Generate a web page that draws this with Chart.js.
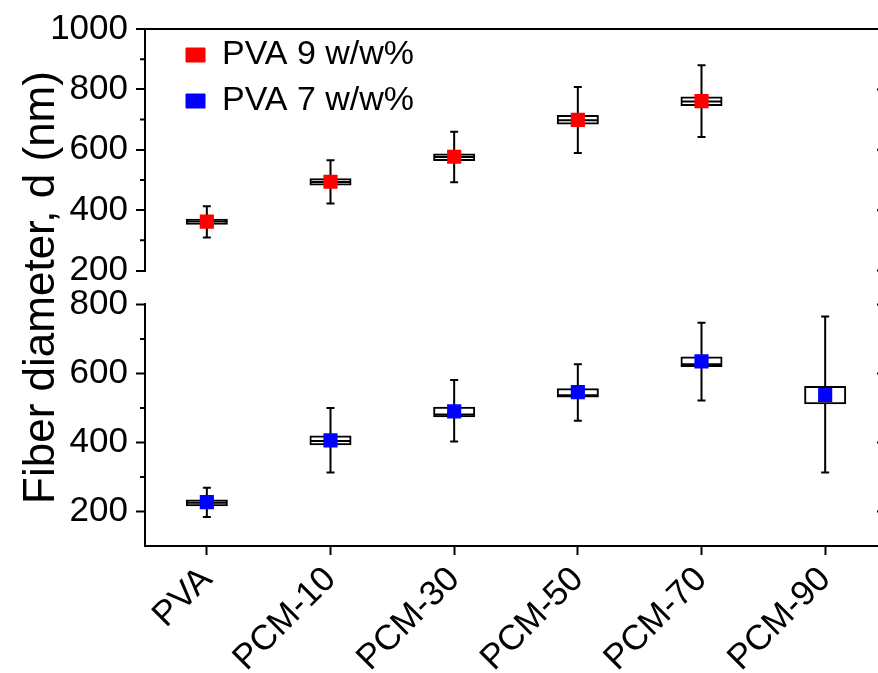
<!DOCTYPE html>
<html>
<head>
<meta charset="utf-8">
<script src="https://cdn.jsdelivr.net/npm/chart.js@4.4.1/dist/chart.umd.min.js"></script>
<style>
  html, body { margin: 0; padding: 0; overflow: hidden; background: #fff; }
</style>
</head>
<body>
<canvas id="grafico" width="900" height="673"></canvas>
<script>
// categorias del eje x
const categories = ['PVA', 'PCM-10', 'PCM-30', 'PCM-50', 'PCM-70', 'PCM-90'];

// PVA 9 w/w% (panel de arriba)
const mean9 = [362, 494, 577, 699, 761, null];
const q1_9  = [355, 485, 566, 687, 748, null];
const med9  = [362, 493, 576, 698, 760, null];
const q3_9  = [368, 502, 584, 712, 773, null];
const min9  = [309, 422, 492, 589, 642, null];
const max9  = [413, 565, 660, 808, 880, null];

// PVA 7 w/w% (panel de abajo)
const mean7 = [227, 406, 490, 546, 635, 538];
const q1_7  = [218, 395, 476, 533, 622, 514];
const med7  = [225, 404, 481, 537, 627, null];
const q3_7  = [232, 417, 501, 554, 646, 561];
const min7  = [184, 313, 403, 463, 522, 313];
const max7  = [269, 500, 581, 627, 747, 765];

// ticks
const ticksTop = [200, 400, 600, 800, 1000];
const minorTop = [300, 500, 700, 900];
const ticksBot = [200, 400, 600, 800];
const minorBot = [300, 500, 700];

Chart.defaults.font.family = "'Liberation Sans', Arial, sans-serif";
Chart.defaults.color = '#000';

const FONT_TICK = 35;

function caja(q1, q3) {
  return q1.map((v, i) => v == null ? null : [v, q3[i]]);
}

function dsCaja(data, eje) {
  return {
    type: 'bar',
    data: data,
    yAxisID: eje,
    backgroundColor: '#fff',
    borderColor: '#000',
    borderWidth: 2,
    borderSkipped: false,
    inflateAmount: 1,
    barThickness: 40,
    grouped: false,
    order: 2
  };
}

// bigotes, medianas, ticks menores y eje derecho
const bigotes = {
  id: 'bigotes',
  beforeDatasetsDraw(chart) {
    const ctx = chart.ctx;
    const x = chart.scales.x;
    ctx.save();
    ctx.strokeStyle = '#000';
    ctx.lineWidth = 2;
    [[chart.scales.yTop, min9, max9], [chart.scales.yBot, min7, max7]].forEach(([y, lo, hi]) => {
      lo.forEach((v, i) => {
        if (v == null) return;
        const px = x.getPixelForValue(i);
        const y1 = y.getPixelForValue(v);
        const y2 = y.getPixelForValue(hi[i]);
        ctx.beginPath();
        ctx.moveTo(px, y1); ctx.lineTo(px, y2);
        ctx.moveTo(px - 4, y1); ctx.lineTo(px + 4, y1);
        ctx.moveTo(px - 4, y2); ctx.lineTo(px + 4, y2);
        ctx.stroke();
      });
    });
    ctx.restore();
  },
  afterDatasetDraw(chart, args) {
    // linea de la mediana sobre cada caja
    const ds = chart.data.datasets[args.index];
    if (ds.type !== 'bar') return;
    const med = ds.yAxisID === 'yTop' ? med9 : med7;
    const y = chart.scales[ds.yAxisID];
    const x = chart.scales.x;
    const ctx = chart.ctx;
    ctx.save();
    ctx.strokeStyle = '#000';
    ctx.lineWidth = 2;
    ctx.beginPath();
    med.forEach((v, i) => {
      if (v == null) return;
      const px = x.getPixelForValue(i);
      const py = y.getPixelForValue(v);
      ctx.moveTo(px - 20, py); ctx.lineTo(px + 20, py);
    });
    ctx.stroke();
    ctx.restore();
  },
  afterDraw(chart) {
    const ctx = chart.ctx;
    const left = chart.chartArea.left;
    const right = chart.chartArea.right;
    ctx.save();
    ctx.strokeStyle = '#000';
    ctx.lineWidth = 2;
    [[chart.scales.yTop, ticksTop, minorTop], [chart.scales.yBot, ticksBot, minorBot]].forEach(([y, mayores, menores]) => {
      ctx.beginPath();
      menores.forEach(v => {
        const py = y.getPixelForValue(v);
        ctx.moveTo(left - 5, py); ctx.lineTo(left, py);
        ctx.moveTo(right - 5, py); ctx.lineTo(right, py);
      });
      mayores.forEach(v => {
        const py = y.getPixelForValue(v);
        ctx.moveTo(right - 10, py); ctx.lineTo(right, py);
      });
      ctx.moveTo(right, y.top); ctx.lineTo(right, y.bottom);
      ctx.stroke();
    });
    ctx.restore();
  },
  afterLayout(chart) {
    // mover la leyenda dentro del area
    chart.legend.left += 29;
    chart.legend.right += 29;
    chart.legend.top += 26;
    chart.legend.bottom += 26;
  }
};

const grafico = new Chart(document.getElementById('grafico'), {
  type: 'bar',
  data: {
    labels: categories,
    datasets: [
      {
        type: 'line',
        label: 'PVA 9 w/w%',
        data: mean9,
        yAxisID: 'yTop',
        showLine: false,
        pointStyle: 'rect',
        pointRadius: 10,
        pointBorderWidth: 0,
        backgroundColor: '#ff0000',
        borderColor: '#ff0000',
        borderWidth: 1,
        order: 0
      },
      {
        type: 'line',
        label: 'PVA 7 w/w%',
        data: mean7,
        yAxisID: 'yBot',
        showLine: false,
        pointStyle: 'rect',
        pointRadius: 10,
        pointBorderWidth: 0,
        backgroundColor: '#0000ff',
        borderColor: '#0000ff',
        borderWidth: 1,
        order: 0
      },
      dsCaja(caja(q1_9, q3_9), 'yTop'),
      dsCaja(caja(q1_7, q3_7), 'yBot')
    ]
  },
  options: {
    responsive: false,
    maintainAspectRatio: false,
    animation: false,
    events: [],
    layout: {
      padding: {left: 0, top: 28, right: 13, bottom: 0}
    },
    plugins: {
      tooltip: {enabled: false},
      legend: {
        position: 'chartArea',
        align: 'start',
        labels: {
          boxWidth: 19,
          boxHeight: 14,
          padding: 12,
          color: '#000',
          font: {size: 34},
          filter: (item, data) => data.datasets[item.datasetIndex].type === 'line'
        }
      }
    },
    scales: {
      x: {
        type: 'category',
        offset: true,
        grid: {
          offset: false,
          drawOnChartArea: false,
          tickLength: 9,
          tickWidth: 2,
          tickColor: '#000'
        },
        border: {color: '#000', width: 2},
        ticks: {
          autoSkip: false,
          minRotation: 45,
          maxRotation: 45,
          padding: 4,
          color: '#000',
          font: {size: FONT_TICK}
        },
        afterFit: s => { s.height = 127; }
      },
      yTop: {
        type: 'linear',
        position: 'left',
        stack: 'panel',
        stackWeight: 242,
        weight: 3,
        min: 200,
        max: 1000,
        afterBuildTicks: s => { s.ticks = ticksTop.map(v => ({value: v})); },
        afterFit: s => { s.width = 145; },
        grid: {
          color: c => (c.tick && c.tick.value === 1000) ? '#000' : 'rgba(0,0,0,0)',
          lineWidth: 2,
          tickLength: 9,
          tickWidth: 2,
          tickColor: '#000'
        },
        border: {color: '#000', width: 2},
        ticks: {autoSkip: false, padding: 8, color: '#000', font: {size: FONT_TICK}, callback: v => String(v)}
      },
      yGap: {
        type: 'linear',
        position: 'left',
        stack: 'panel',
        stackWeight: 34,
        weight: 2,
        min: 0,
        max: 1,
        afterFit: s => { s.width = 145; },
        grid: {display: false},
        border: {display: false},
        ticks: {display: false},
        title: {
          display: true,
          text: 'Fiber diameter, d (nm)',
          color: '#000',
          font: {size: 44},
          padding: {top: 15, bottom: 0}
        }
      },
      yBot: {
        type: 'linear',
        position: 'left',
        stack: 'panel',
        stackWeight: 242,
        weight: 1,
        min: 100,
        max: 800,
        afterBuildTicks: s => { s.ticks = ticksBot.map(v => ({value: v})); },
        afterFit: s => { s.width = 145; },
        grid: {
          drawOnChartArea: false,
          tickLength: 9,
          tickWidth: 2,
          tickColor: '#000'
        },
        border: {color: '#000', width: 2},
        ticks: {autoSkip: false, padding: 8, color: '#000', font: {size: FONT_TICK}, callback: v => String(v)}
      }
    }
  },
  plugins: [bigotes]
});
</script>
</body>
</html>
